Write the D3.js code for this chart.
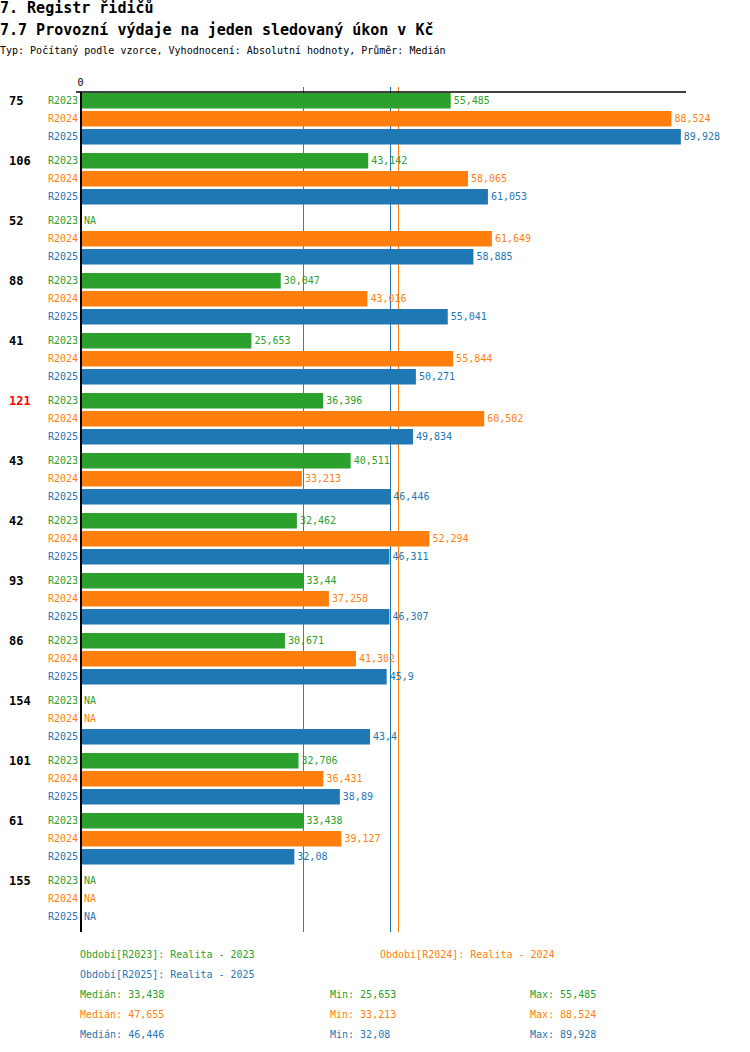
<!DOCTYPE html>
<html>
<head>
<meta charset="utf-8">
<script src="https://cdn.jsdelivr.net/npm/d3@7"></script>
<style>
	body { margin: 0; background: #fff; }
	svg text { font-family: "DejaVu Sans Mono", "Liberation Mono", monospace; }
</style>
</head>
<body>
<div id="svg_container"></div>
<script>

/* -----------------------
data
------------------------- */

var categories = ['75', '106', '52', '88', '41', '121', '43', '42', '93', '86', '154', '101', '61', '155'];
var highlighted = ['121'];

var series = ['R2023', 'R2024', 'R2025'];
var seriesNames = ['Realita - 2023', 'Realita - 2024', 'Realita - 2025'];

var r2023 = [55.485, 43.142, null, 30.047, 25.653, 36.396, 40.511, 32.462, 33.44, 30.671, null, 32.706, 33.438, null];
var r2024 = [88.524, 58.065, 61.649, 43.016, 55.844, 60.502, 33.213, 52.294, 37.258, 41.302, null, 36.431, 39.127, null];
var r2025 = [89.928, 61.053, 58.885, 55.041, 50.271, 49.834, 46.446, 46.311, 46.307, 45.9, 43.4, 38.89, 32.08, null];

var values = [r2023, r2024, r2025];
var colors = ['#2ca02c', '#ff7f0e', '#1f77b4'];

/* -----------------------
main variables
------------------------- */

var width = 750;
var height = 1052;

var top0 = 92;          // y of the axis line
var groupH = 60;
var barStep = 18;
var barH = 15.5;

var fmt = function (v) { return String(v).replace('.', ','); };

var svg = d3.select("#svg_container")
	.append("svg")
	.attr("width", width)
	.attr("height", height);

var x = d3.scaleLinear()
	.domain([0, 90.7])
	.range([80, 686]);

var y = d3.scaleBand()
	.domain(categories)
	.range([top0, top0 + groupH * categories.length]);

var bottom = top0 + groupH * categories.length;

/* -----------------------
titles
------------------------- */

svg.append('text')
	.attr('x', 0).attr('y', 13)
	.style('font-size', '15px').style('font-weight', 'bold')
	.text('7. Registr řidičů');

svg.append('text')
	.attr('x', 0).attr('y', 35)
	.style('font-size', '15px').style('font-weight', 'bold')
	.text('7.7 Provozní výdaje na jeden sledovaný úkon v Kč');

svg.append('text')
	.attr('x', 0).attr('y', 54)
	.style('font-size', '10px')
	.text('Typ: Počítaný podle vzorce, Vyhodnocení: Absolutní hodnoty, Průměr: Medián');

/* -----------------------
median lines (behind bars)
------------------------- */

var stats = values.map(function (s) {
	var v = s.filter(function (d) { return d != null; });
	return { median: d3.median(v), min: d3.min(v), max: d3.max(v) };
});

svg.selectAll('.median')
	.data(stats)
	.enter()
	.append('line')
	.attr('class', 'median')
	.attr('x1', function (d) { return Math.round(x(d.median)) + 0.5; })
	.attr('x2', function (d) { return Math.round(x(d.median)) + 0.5; })
	.attr('y1', top0 - 5)
	.attr('y2', bottom)
	.attr('stroke', function (d, i) { return colors[i]; })
	.attr('stroke-width', 1);

/* -----------------------
bars
------------------------- */

var group = svg.selectAll('.group')
	.data(categories)
	.enter()
	.append('g')
	.attr('class', 'group')
	.attr('transform', function (d) { return 'translate(0,' + y(d) + ')'; });

group.append('text')
	.attr('x', 9)
	.attr('y', 1 + barH / 2)
	.attr('dy', '.35em')
	.style('font-size', '12px')
	.style('font-weight', 'bold')
	.attr('fill', function (d) { return highlighted.indexOf(d) >= 0 ? '#ff0000' : '#000'; })
	.text(function (d) { return d; });

series.forEach(function (s, j) {

	group.append('text')
		.attr('x', 78)
		.attr('y', 1 + j * barStep + barH / 2)
		.attr('dy', '.35em')
		.attr('text-anchor', 'end')
		.style('font-size', '10px')
		.attr('fill', colors[j])
		.text(s);

	group.filter(function (d, i) { return values[j][i] != null; })
		.append('rect')
		.attr('x', x(0))
		.attr('y', 1 + j * barStep)
		.attr('width', function (d) { return x(values[j][categories.indexOf(d)]) - x(0); })
		.attr('height', barH)
		.attr('fill', colors[j]);

	group.append('text')
		.attr('x', function (d, i) {
			var v = values[j][i];
			return v == null ? 84 : x(v) + 3;
		})
		.attr('y', 1 + j * barStep + barH / 2)
		.attr('dy', '.35em')
		.style('font-size', '10px')
		.attr('fill', colors[j])
		.text(function (d, i) {
			var v = values[j][i];
			return v == null ? 'NA' : fmt(v);
		});
});

/* -----------------------
axes
------------------------- */

var xAxis = svg.append('g')
	.attr('transform', 'translate(0,' + top0 + ')')
	.call(d3.axisTop(x).tickValues([0]).tickSize(0).tickSizeOuter(0).tickPadding(6));

xAxis.select('.domain').attr('stroke', '#000').attr('stroke-width', 1.5)
	.attr('d', 'M76,0H686');
xAxis.selectAll('text')
	.style('font-family', '"DejaVu Sans Mono", monospace')
	.style('font-size', '10px')
	.attr('fill', '#000');

svg.append('line')
	.attr('x1', x(0) + 1).attr('x2', x(0) + 1)
	.attr('y1', top0)
	.attr('y2', bottom)
	.attr('stroke', '#000')
	.attr('stroke-width', 2);

/* -----------------------
legend
------------------------- */

var legendPos = [[80, 954], [380, 954], [80, 974]];

svg.selectAll('.legend')
	.data(series)
	.enter()
	.append('text')
	.attr('class', 'legend')
	.attr('x', function (d, i) { return legendPos[i][0]; })
	.attr('y', function (d, i) { return legendPos[i][1]; })
	.attr('dy', '.35em')
	.style('font-size', '10px')
	.attr('fill', function (d, i) { return colors[i]; })
	.text(function (d, i) { return 'Období[' + d + ']: ' + seriesNames[i]; });

var statRow = svg.selectAll('.stat')
	.data(stats)
	.enter()
	.append('g')
	.attr('class', 'stat')
	.attr('transform', function (d, i) { return 'translate(0,' + (994 + i * 20) + ')'; })
	.attr('fill', function (d, i) { return colors[i]; })
	.style('font-size', '10px');

statRow.append('text').attr('x', 80).attr('dy', '.35em')
	.text(function (d) { return 'Medián: ' + fmt(d.median); });
statRow.append('text').attr('x', 330).attr('dy', '.35em')
	.text(function (d) { return 'Min: ' + fmt(d.min); });
statRow.append('text').attr('x', 530).attr('dy', '.35em')
	.text(function (d) { return 'Max: ' + fmt(d.max); });

</script>
</body>
</html>
